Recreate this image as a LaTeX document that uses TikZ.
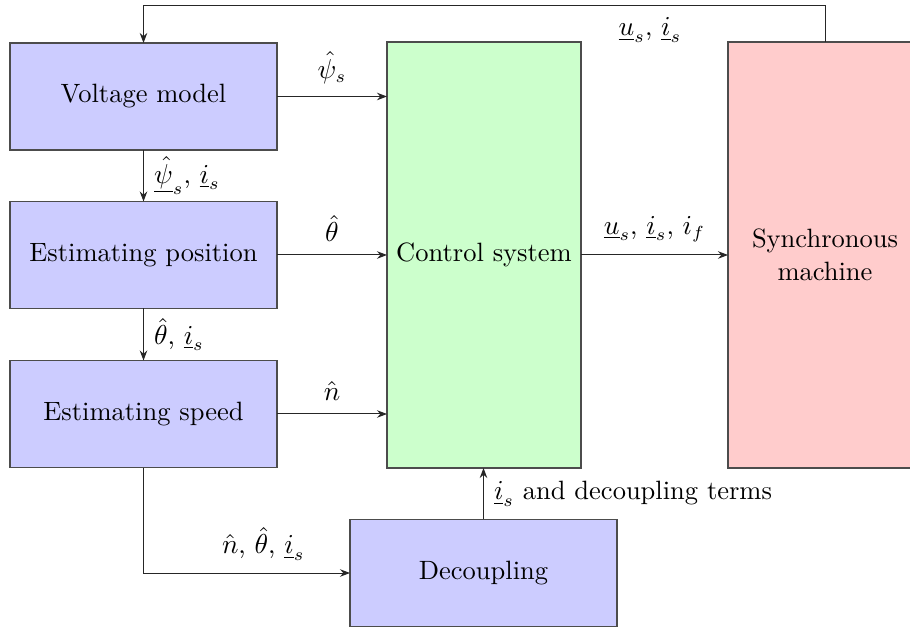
\documentclass[tikz,border=0pt]{standalone}
\usetikzlibrary{arrows.meta}
\begin{document}
\begin{tikzpicture}[x=0.4pt,y=-0.4pt,
  font=\fontsize{10.6}{13}\selectfont,
  blk/.style={draw=black!70, line width=0.5pt, inner sep=0pt, outer sep=0pt, align=center},
  est/.style={blk, fill=blue!20, minimum width=106.8pt, minimum height=42.8pt},
  tall/.style={blk, minimum width=77.6pt, minimum height=170.4pt},
  conn/.style={draw=black!85, line width=0.4pt, -{Stealth[length=4pt,width=3pt]}},
  lbl/.style={inner sep=2pt}]
\useasboundingbox (0,0) rectangle (910,630);
\node[est] (vm) at (143.5,96.5) {Voltage model};
\node[est] (ep) at (143.5,255) {Estimating position};
\node[est] (es) at (143.5,414) {Estimating speed};
\node[tall, fill=green!20] (cs) at (484,255) {Control system};
\node[tall, fill=red!20] (sm) at (825,255) {Synchronous\\machine};
\node[est] (dec) at (483.5,573) {Decoupling};
\coordinate (fb) at (825,6);

\draw[conn] (vm.east) -- (vm.east -| cs.west) node[lbl, midway, above=3pt] {$\hat{\psi}_s$};
\draw[conn] (ep.east) -- (ep.east -| cs.west) node[lbl, midway, above=3pt] {$\hat{\theta}$};
\draw[conn] (es.east) -- (es.east -| cs.west) node[lbl, midway, above=3pt] {$\hat{n}$};
\draw[conn] (vm.south) -- (ep.north) node[lbl, midway, right=2pt] {$\underline{\hat{\psi}}_s$, $\underline{i}_s$};
\draw[conn] (ep.south) -- (es.north) node[lbl, midway, right=2pt] {$\hat{\theta}$, $\underline{i}_s$};
\draw[conn] (cs.east) -- (sm.west) node[lbl, midway, above=3pt] {$\underline{u}_s$, $\underline{i}_s$, $i_f$};
\draw[conn] (sm.north) -- (fb) -| (vm.north);
\node[lbl] (fbl) at (650,30) {$\underline{u}_s$, $\underline{i}_s$};
\draw[conn] (es.south) |- (dec.west) node[lbl, pos=0.79, above=3pt] {$\hat{n}$, $\hat{\theta}$, $\underline{i}_s$};
\draw[conn] (dec.north) -- (dec.north |- cs.south) node[lbl, midway, right=2pt] {$\underline{i}_s$ and decoupling terms};
\end{tikzpicture}
\end{document}
